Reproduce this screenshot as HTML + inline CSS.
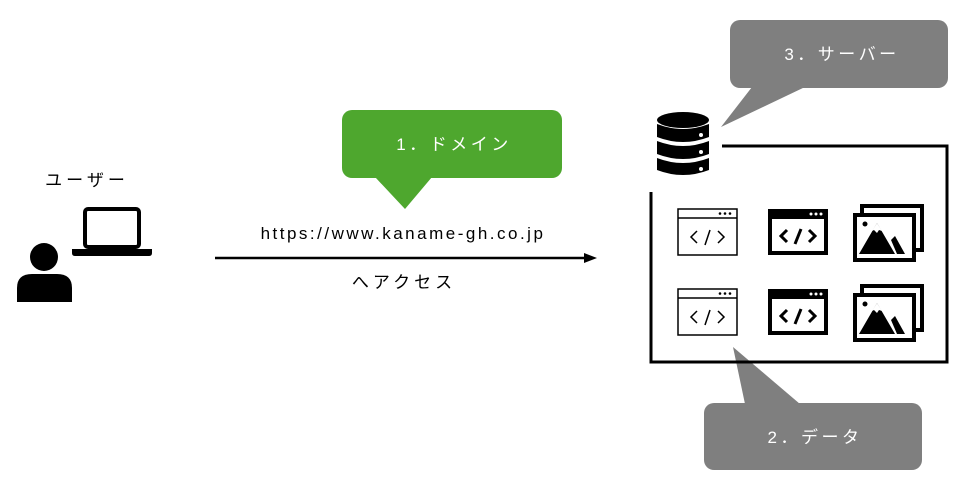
<!DOCTYPE html>
<html><head><meta charset="utf-8"><style>
html,body{margin:0;padding:0;background:#fff;width:962px;height:493px;overflow:hidden}
text{font-family:"Liberation Sans","Noto Sans CJK JP",sans-serif}
</style></head><body>
<svg width="962" height="493" viewBox="0 0 962 493" xmlns="http://www.w3.org/2000/svg">
<!-- green callout -->
<rect x="342" y="110" width="220" height="68" rx="10" fill="#4ea72e"/>
<polygon points="375,177 432,177 405,209" fill="#4ea72e"/>
<text x="454" y="150" font-size="17" letter-spacing="3.5" fill="#fff" text-anchor="middle">1．ドメイン</text>
<!-- server callout -->
<rect x="730" y="20" width="218" height="68" rx="10" fill="#7f7f7f"/>
<polygon points="752,87 805,87 721,127" fill="#7f7f7f"/>
<text x="842" y="60" font-size="17" letter-spacing="3.5" fill="#fff" text-anchor="middle">3．サーバー</text>
<!-- data callout -->
<rect x="704" y="403" width="218" height="67" rx="10" fill="#7f7f7f"/>
<polygon points="745,404 800,404 733,347" fill="#7f7f7f"/>
<text x="815" y="443" font-size="17" letter-spacing="3.5" fill="#fff" text-anchor="middle">2．データ</text>
<!-- user -->
<text x="87" y="186" font-size="17" letter-spacing="4" fill="#000" text-anchor="middle">ユーザー</text>
<circle cx="44" cy="257" r="14" fill="#000"/>
<path d="M17,302 V288 Q17,274 32,274 H57 Q72,274 72,288 V302 Z" fill="#000"/>
<rect x="85" y="209" width="54" height="38" rx="3" fill="none" stroke="#000" stroke-width="4"/>
<path d="M72,249 H152 V253 Q152,256 149,256 H75 Q72,256 72,253 Z" fill="#000"/>
<!-- arrow -->
<line x1="215" y1="258" x2="588" y2="258" stroke="#000" stroke-width="2.5"/>
<polygon points="584,253 597,258 584,263" fill="#000"/>
<text x="403" y="239" font-size="17" letter-spacing="2.5" fill="#000" text-anchor="middle">https://www.kaname-gh.co.jp</text>
<text x="404" y="288" font-size="17" letter-spacing="4" fill="#000" text-anchor="middle">へアクセス</text>
<!-- frame -->
<polyline points="722,146 947,146 947,362 651,362 651,192" fill="none" stroke="#000" stroke-width="3"/>
<!-- database -->
<g fill="#000">
<ellipse cx="683" cy="120" rx="26" ry="8"/>
<path d="M657,124 Q683,134 709,124 V137 Q683,147 657,137 Z"/>
<path d="M657,141 Q683,151 709,141 V154 Q683,164 657,154 Z"/>
<path d="M657,158 Q683,168 709,158 V170 Q683,180 657,170 Z"/>
</g>
<g fill="#fff"><circle cx="701" cy="135" r="2"/><circle cx="701" cy="152" r="2"/><circle cx="701" cy="169" r="2"/></g>
<!-- icons -->
<defs>
<g id="ob">
<rect x="0" y="0" width="59" height="46" fill="#fff" stroke="#000" stroke-width="1.5"/>
<line x1="0" y1="9" x2="59" y2="9" stroke="#000" stroke-width="1.5"/>
<circle cx="42" cy="4.5" r="1.3"/><circle cx="47" cy="4.5" r="1.3"/><circle cx="52" cy="4.5" r="1.3"/>
<polyline points="19,22 13,28 19,34" fill="none" stroke="#000" stroke-width="1.5"/>
<line x1="32" y1="21" x2="27" y2="36" stroke="#000" stroke-width="1.5"/>
<polyline points="40,22 46,28 40,34" fill="none" stroke="#000" stroke-width="1.5"/>
</g>
<g id="fb">
<rect x="0" y="0" width="60" height="46" fill="#000"/>
<rect x="4" y="10" width="52" height="32" fill="#fff"/>
<circle cx="43" cy="5" r="1.5" fill="#fff"/><circle cx="48" cy="5" r="1.5" fill="#fff"/><circle cx="53" cy="5" r="1.5" fill="#fff"/>
<polyline points="19,21 13,27 19,33" fill="none" stroke="#000" stroke-width="3"/>
<line x1="33" y1="20" x2="27" y2="35" stroke="#000" stroke-width="3"/>
<polyline points="41,21 47,27 41,33" fill="none" stroke="#000" stroke-width="3"/>
</g>
<g id="im">
<rect x="9" y="0" width="60" height="44" fill="#fff" stroke="#000" stroke-width="4"/>
<rect x="2" y="9" width="59" height="45" fill="#fff" stroke="#000" stroke-width="4"/>
<circle cx="12" cy="18" r="2.5" fill="#000"/>
<polygon points="6,48 24,17 42,48" fill="#000"/>
<polygon points="19,25 24,17 29,25 26,24 24,27 21,24" fill="#fff"/>
<polygon points="38,34 42,30 52,48 44,48" fill="#000"/>
</g>
</defs>
<use href="#ob" x="678" y="209"/>
<use href="#ob" x="678" y="289"/>
<use href="#fb" x="768" y="209"/>
<use href="#fb" x="768" y="289"/>
<use href="#im" x="853" y="206"/>
<use href="#im" x="853" y="286"/>
</svg>
</body></html>
